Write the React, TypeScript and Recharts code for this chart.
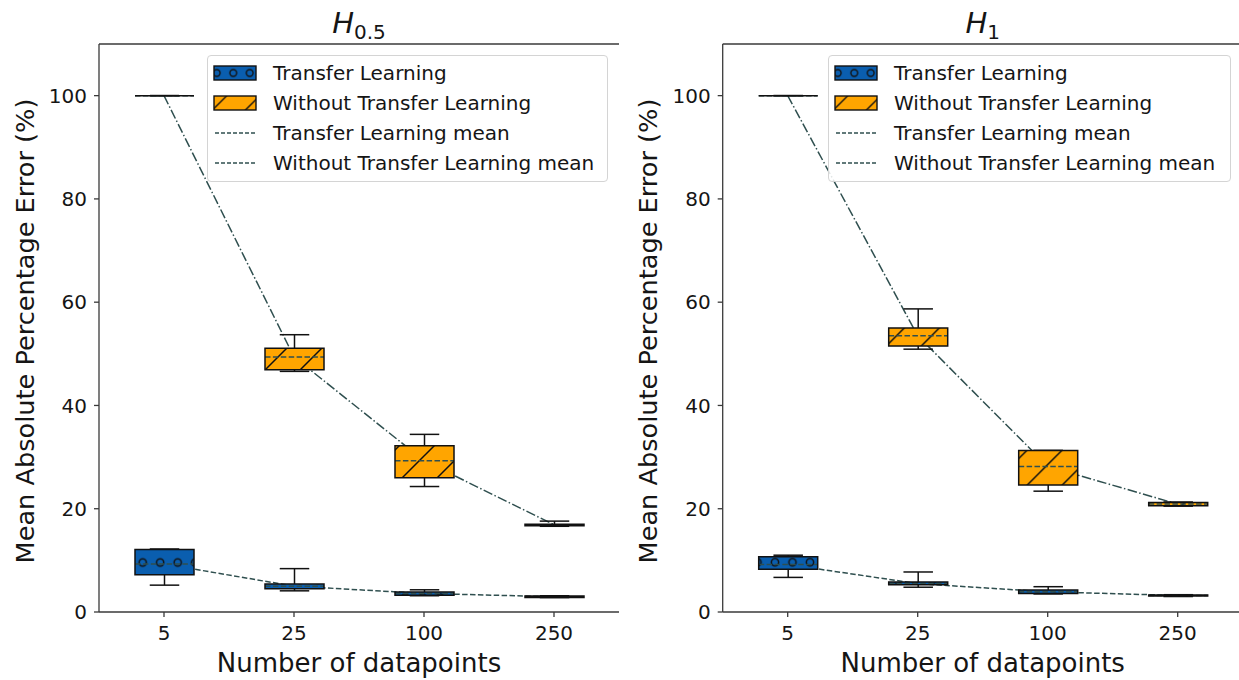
import React from 'react';
import { ComposedChart, Bar, Line, XAxis, YAxis, Legend, Label } from 'recharts';

// ---------- data ----------
const CATEGORIES = ['5', '25', '100', '250'];
const Y_TICKS = [0, 20, 40, 60, 80, 100];

// H_0.5 — Transfer Learning
const H05_TL_MIN = [5.2, 4.1, 3.15, 2.8];
const H05_TL_Q1 = [7.2, 4.5, 3.25, 2.8];
const H05_TL_Q3 = [12.1, 5.4, 3.85, 3.1];
const H05_TL_MAX = [12.2, 8.4, 4.3, 3.15];
const H05_TL_MEAN = [9.3, 5.0, 3.6, 2.95];
// H_0.5 — Without Transfer Learning
const H05_WO_MIN = [100, 46.6, 24.3, 16.6];
const H05_WO_Q1 = [100, 46.9, 26.0, 16.7];
const H05_WO_Q3 = [100, 51.1, 32.2, 17.0];
const H05_WO_MAX = [100, 53.7, 34.4, 17.6];
const H05_WO_MEAN = [100, 49.4, 29.3, 16.9];

// H_1 — Transfer Learning
const H1_TL_MIN = [6.7, 4.8, 3.5, 3.0];
const H1_TL_Q1 = [8.3, 5.3, 3.6, 3.1];
const H1_TL_Q3 = [10.7, 5.8, 4.25, 3.3];
const H1_TL_MAX = [11.0, 7.75, 4.9, 3.35];
const H1_TL_MEAN = [9.2, 5.5, 3.9, 3.2];
// H_1 — Without Transfer Learning
const H1_WO_MIN = [100, 50.9, 23.4, 20.5];
const H1_WO_Q1 = [100, 51.5, 24.6, 20.6];
const H1_WO_Q3 = [100, 55.0, 31.3, 21.2];
const H1_WO_MAX = [100, 58.7, 31.3, 21.3];
const H1_WO_MEAN = [100, 53.5, 28.2, 20.9];

const LEGEND_LABELS = [
  'Transfer Learning',
  'Without Transfer Learning',
  'Transfer Learning mean',
  'Without Transfer Learning mean',
];

const X_LABEL = 'Number of datapoints';
const Y_LABEL = 'Mean Absolute Percentage Error (%)';

// ---------- styles ----------
const BLUE = '#0A5EAF';
const ORANGE = '#FFA500';
const MEAN_COLOR = '#2F4F4F';
const SPINE = '#3a3a3a';
const TEXT = '#151515';
const FONT = '"DejaVu Sans", sans-serif';

type Stats = { min: number; q1: number; q3: number; max: number; mean: number };

function buildRows(tl: number[][], wo: number[][]) {
  return CATEGORIES.map((label, i) => {
    const tlS: Stats = { min: tl[0][i], q1: tl[1][i], q3: tl[2][i], max: tl[3][i], mean: tl[4][i] };
    const woS: Stats = { min: wo[0][i], q1: wo[1][i], q3: wo[2][i], max: wo[3][i], mean: wo[4][i] };
    return {
      label,
      tlRange: [tlS.min, tlS.max],
      woRange: [woS.min, woS.max],
      tlStats: tlS,
      woStats: woS,
      tlMean: tlS.mean,
      woMean: woS.mean,
    };
  });
}

const ROWS_H05 = buildRows(
  [H05_TL_MIN, H05_TL_Q1, H05_TL_Q3, H05_TL_MAX, H05_TL_MEAN],
  [H05_WO_MIN, H05_WO_Q1, H05_WO_Q3, H05_WO_MAX, H05_WO_MEAN]
);
const ROWS_H1 = buildRows(
  [H1_TL_MIN, H1_TL_Q1, H1_TL_Q3, H1_TL_MAX, H1_TL_MEAN],
  [H1_WO_MIN, H1_WO_Q1, H1_WO_Q3, H1_WO_MAX, H1_WO_MEAN]
);

function makeBoxShape(statsKey: 'tlStats' | 'woStats', fill: string, patternId: string) {
  return (props: any) => {
    const { x, y, width, height, payload } = props;
    const st: Stats = payload[statsKey];
    const top = Math.min(y, y + height);
    const h = Math.abs(height);
    const range = st.max - st.min;
    const py = (v: number) => (range > 0 ? top + ((st.max - v) / range) * h : top);
    const cx = x + width / 2;
    const capHalf = width / 4;
    const yMax = py(st.max);
    const yMin = py(st.min);
    const yQ3 = py(st.q3);
    const yQ1 = py(st.q1);
    const yMean = py(st.mean);
    const bh = Math.max(0, yQ1 - yQ3);
    const outline = `M${x},${yQ3} H${x + width} V${yQ1} H${x} Z`;
    return (
      <g>
        <line x1={cx} x2={cx} y1={yMax} y2={yQ3} stroke="#111" strokeWidth={1.5} />
        <line x1={cx} x2={cx} y1={yQ1} y2={yMin} stroke="#111" strokeWidth={1.5} />
        <line x1={cx - capHalf} x2={cx + capHalf} y1={yMax} y2={yMax} stroke="#111" strokeWidth={1.5} />
        <line x1={cx - capHalf} x2={cx + capHalf} y1={yMin} y2={yMin} stroke="#111" strokeWidth={1.5} />
        {bh > 0 && <rect x={x} y={yQ3} width={width} height={bh} fill={fill} />}
        {bh > 0 && <rect x={x} y={yQ3} width={width} height={bh} fill={`url(#${patternId})`} />}
        <line x1={x} x2={x + width} y1={yMean} y2={yMean} stroke={MEAN_COLOR} strokeWidth={1.5} strokeDasharray="5.5 2.4" />
        <path d={outline} fill="none" stroke="#111" strokeWidth={1.5} />
      </g>
    );
  };
}

function Swatch({ kind, uid }: { kind: number; uid: string }) {
  if (kind === 0 || kind === 1) {
    const pid = `lg-${uid}-${kind}`;
    return (
      <svg width={44} height={30} style={{ display: 'block' }}>
        <defs>
          {kind === 0 ? (
            <pattern id={pid} patternUnits="userSpaceOnUse" width={16.5} height={16.5} x={-4.5} y={6.75}>
              <circle cx={8.25} cy={8.25} r={3.4} fill="none" stroke="#111" strokeWidth={1.4} />
            </pattern>
          ) : (
            <pattern id={pid} patternUnits="userSpaceOnUse" width={33} height={33} x={-11.5} y={0}>
              <path d="M-5,5 L5,-5 M0,33 L33,0 M28,38 L38,28" stroke="#111" strokeWidth={1.4} />
            </pattern>
          )}
        </defs>
        <rect x={1} y={8} width={42} height={14} fill={kind === 0 ? BLUE : ORANGE} />
        <rect x={1} y={8} width={42} height={14} fill={`url(#${pid})`} />
        <rect x={1} y={8} width={42} height={14} fill="none" stroke="#111" strokeWidth={1.4} />
      </svg>
    );
  }
  return (
    <svg width={44} height={30} style={{ display: 'block' }}>
      <line x1={2} x2={43} y1={15} y2={15} stroke={MEAN_COLOR} strokeWidth={1.4} strokeDasharray="4 2" />
    </svg>
  );
}

function LegendBox({ uid }: { uid: string }) {
  return (
    <div
      style={{
        width: '100%',
        height: '100%',
        boxSizing: 'border-box',
        border: '1px solid #d4d4d4',
        borderRadius: 4,
        background: 'rgba(255,255,255,0.85)',
        paddingTop: 2,
        paddingLeft: 5,
        fontFamily: FONT,
        fontSize: 20,
        color: TEXT,
      }}
    >
      {LEGEND_LABELS.map((lab, i) => (
        <div key={lab} style={{ display: 'flex', alignItems: 'center', height: 30, lineHeight: '30px' }}>
          <Swatch kind={i} uid={uid} />
          <span style={{ marginLeft: 16, whiteSpace: 'nowrap' }}>{lab}</span>
        </div>
      ))}
    </div>
  );
}

type PanelProps = {
  uid: string;
  rows: any[];
  left: number;
  width: number;
  marginLeft: number;
  marginRight: number;
  titleSub: string;
  hatchShift: number;
  dotShiftX: number;
  dotShiftY: number;
  legendLeft: number;
  legendWidth: number;
};

function Panel(p: PanelProps) {
  const bluePat = `dots-${p.uid}`;
  const orangePat = `diag-${p.uid}`;
  return (
    <div style={{ position: 'absolute', left: p.left, top: 0, fontFamily: FONT }}>
      <ComposedChart
        width={p.width}
        height={680}
        data={p.rows}
        margin={{ top: 43, bottom: 28, left: p.marginLeft, right: p.marginRight }}
      >
        <defs>
          <pattern id={bluePat} patternUnits="userSpaceOnUse" width={17.5} height={17.5} x={p.dotShiftX} y={p.dotShiftY}>
            <circle cx={8.75} cy={8.75} r={3.6} fill="none" stroke="#111" strokeWidth={1.5} />
          </pattern>
          <pattern id={orangePat} patternUnits="userSpaceOnUse" width={35} height={35} x={p.hatchShift} y={0}>
            <path d="M-5,5 L5,-5 M0,35 L35,0 M30,40 L40,30" stroke="#111" strokeWidth={1.5} />
          </pattern>
        </defs>
        <XAxis
          dataKey="label"
          type="category"
          height={40}
          tickSize={5}
          tickMargin={9}
          tick={{ fontSize: 20, fill: TEXT }}
          stroke={SPINE}
          axisLine={{ stroke: SPINE, strokeWidth: 1.3 }}
          tickLine={{ stroke: SPINE, strokeWidth: 1.3 }}
        >
          <Label
            content={(lp: any) => {
              const vb = lp.viewBox;
              return (
                <text x={vb.x + vb.width / 2} y={vb.y + 59.5} textAnchor="middle" fontSize={26} fill={TEXT} fontFamily={FONT}>
                  {X_LABEL}
                </text>
              );
            }}
          />
        </XAxis>
        <XAxis xAxisId="o" dataKey="label" type="category" hide />
        <XAxis
          xAxisId="top"
          dataKey="label"
          type="category"
          orientation="top"
          height={1}
          tick={false}
          tickLine={false}
          axisLine={{ stroke: SPINE, strokeWidth: 1.3 }}
        >
          <Label
            content={(lp: any) => {
              const vb = lp.viewBox;
              return (
                <text x={vb.x + vb.width / 2} y={vb.y + vb.height - 11} textAnchor="middle" fill={TEXT} fontFamily={FONT}>
                  <tspan fontStyle="italic" fontSize={29}>H</tspan>
                  <tspan fontSize={20} dy={6}>{p.titleSub}</tspan>
                </text>
              );
            }}
          />
        </XAxis>
        <YAxis
          type="number"
          domain={[0, 110]}
          ticks={Y_TICKS}
          width={50}
          tickSize={5}
          tickMargin={7}
          tick={{ fontSize: 20, fill: TEXT }}
          axisLine={{ stroke: SPINE, strokeWidth: 1.3 }}
          tickLine={{ stroke: SPINE, strokeWidth: 1.3 }}
          allowDataOverflow
        >
          <Label
            content={(lp: any) => {
              const vb = lp.viewBox;
              const cx = vb.x - 24.5;
              const cy = vb.y + vb.height / 2 + 3;
              return (
                <text
                  x={cx}
                  y={cy}
                  transform={`rotate(-90, ${cx}, ${cy})`}
                  textAnchor="middle"
                  dominantBaseline="central"
                  fontSize={25.6}
                  fill={TEXT}
                  fontFamily={FONT}
                >
                  {Y_LABEL}
                </text>
              );
            }}
          />
        </YAxis>
        <YAxis
          yAxisId="right"
          orientation="right"
          type="number"
          domain={[0, 110]}
          width={0}
          tick={false}
          tickLine={false}
          axisLine={{ stroke: SPINE, strokeWidth: 1.3 }}
        />
        <Line
          dataKey="tlMean"
          name="Transfer Learning mean"
          stroke={MEAN_COLOR}
          strokeWidth={1.5}
          strokeDasharray="5.5 2.4"
          dot={false}
          activeDot={false}
          isAnimationActive={false}
          zIndex={100}
        />
        <Line
          dataKey="woMean"
          name="Without Transfer Learning mean"
          stroke={MEAN_COLOR}
          strokeWidth={1.5}
          strokeDasharray="9.6 2.4 1.5 2.4"
          dot={false}
          activeDot={false}
          isAnimationActive={false}
          zIndex={100}
        />
        <Bar
          dataKey="tlRange"
          name="Transfer Learning"
          barSize={59}
          fill={BLUE}
          shape={makeBoxShape('tlStats', BLUE, bluePat)}
          isAnimationActive={false}
        />
        <Bar
          dataKey="woRange"
          xAxisId="o"
          name="Without Transfer Learning"
          barSize={59}
          fill={ORANGE}
          shape={makeBoxShape('woStats', ORANGE, orangePat)}
          isAnimationActive={false}
        />
        <Legend
          layout="vertical"
          align="center"
          verticalAlign="middle"
          content={() => <LegendBox uid={p.uid} />}
          wrapperStyle={{ left: p.legendLeft, top: 55, width: p.legendWidth, height: 127, right: 'auto', bottom: 'auto', margin: 0 }}
        />
      </ComposedChart>
    </div>
  );
}

export default function App() {
  return (
    <div style={{ position: 'absolute', left: 0, top: 0, width: 1239, height: 680, overflow: 'hidden', background: '#fff' }}>
      <Panel
        uid="a"
        rows={ROWS_H05}
        left={0}
        width={620}
        marginLeft={49}
        marginRight={1}
        titleSub="0.5"
        hatchShift={5}
        dotShiftX={-6.05}
        dotShiftY={-6.25}
        legendLeft={207}
        legendWidth={401}
      />
      <Panel
        uid="b"
        rows={ROWS_H1}
        left={620}
        width={625}
        marginLeft={52.7}
        marginRight={2.3}
        titleSub="1"
        hatchShift={17.3}
        dotShiftX={6.25}
        dotShiftY={-6.45}
        legendLeft={208}
        legendWidth={403}
      />
    </div>
  );
}
